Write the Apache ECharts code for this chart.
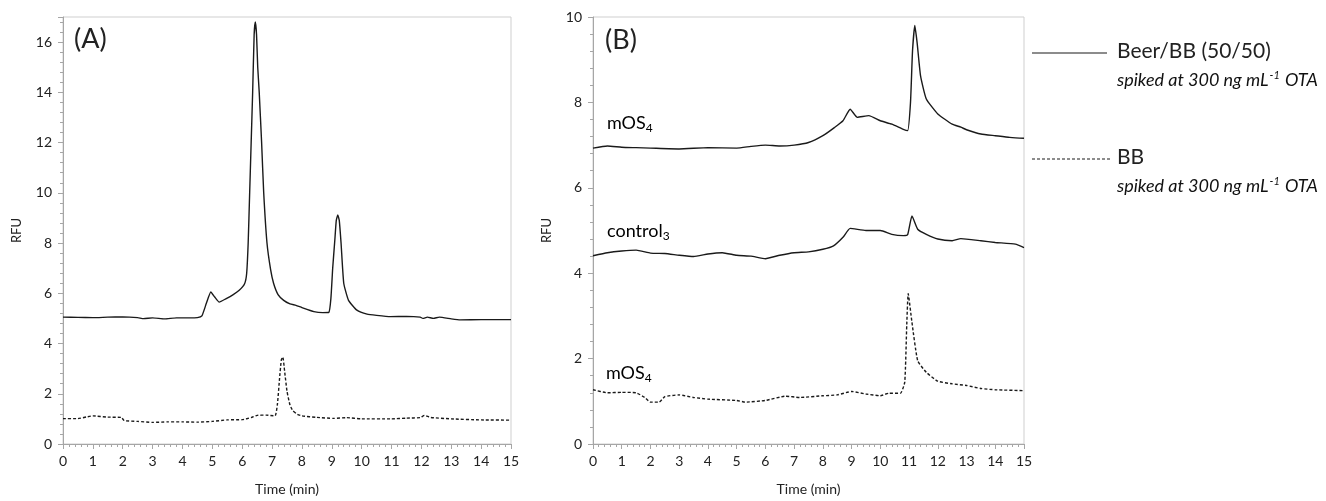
<!DOCTYPE html>
<html>
<head>
<meta charset="utf-8">
<title>Chromatograms (A) and (B)</title>
<script src="https://cdn.jsdelivr.net/npm/echarts@6/dist/echarts.min.js"></script>
<style>
  html, body { margin: 0; padding: 0; background: #fff; }
  #chart { width: 1326px; height: 501px; }
</style>
</head>
<body>
<div id="chart"></div>
<script>
// Panel A: Beer/BB (50/50) spiked, solid trace  [time (min), RFU]
const panelA_beerBB = [
    [0, 5.05], [0.5, 5.04], [1, 5.03], [1.5, 5.05], [2, 5.06], [2.5, 5.03], [2.7, 4.99],
    [3, 5.02], [3.4, 4.98], [3.8, 5.02], [4.2, 5.02], [4.5, 5.03], [4.65, 5.1],
    [4.8, 5.6], [4.95, 6.05], [5.08, 5.85], [5.23, 5.65], [5.45, 5.78], [5.7, 5.95],
    [5.9, 6.12], [6.08, 6.38], [6.15, 6.8], [6.2, 8.0], [6.25, 10.0], [6.3, 12.0],
    [6.35, 14.0], [6.4, 16.3], [6.44, 16.8], [6.48, 16.3], [6.52, 15.0], [6.57, 14.0],
    [6.65, 12.0], [6.72, 10.0], [6.83, 8.0], [6.95, 6.95], [7.05, 6.4], [7.2, 5.95],
    [7.39, 5.72], [7.6, 5.58], [7.8, 5.52], [8.0, 5.43], [8.4, 5.27], [8.7, 5.23],
    [8.9, 5.24], [8.97, 5.8], [9.03, 7.0], [9.1, 8.1], [9.15, 8.9], [9.2, 9.12],
    [9.25, 8.9], [9.31, 8.0], [9.4, 6.4], [9.56, 5.72], [9.84, 5.33], [10.18, 5.17],
    [10.5, 5.12], [10.96, 5.07], [11.5, 5.08], [11.96, 5.05], [12.05, 5.0], [12.2, 5.05],
    [12.4, 5.0], [12.6, 5.05], [13.0, 4.98], [13.3, 4.94], [14.0, 4.95], [15.0, 4.95]
];

// Panel A: BB spiked, dashed trace
const panelA_BB = [
    [0, 1.01], [0.5, 1.01], [0.8, 1.08], [1.0, 1.12], [1.5, 1.07], [1.95, 1.06],
    [2.05, 0.93], [2.5, 0.9], [3.0, 0.86], [3.5, 0.88], [4.0, 0.88], [4.5, 0.87],
    [5.0, 0.9], [5.5, 0.96], [6.0, 0.97], [6.3, 1.05], [6.5, 1.14], [6.8, 1.15],
    [7.1, 1.12], [7.18, 1.6], [7.25, 2.6], [7.31, 3.35], [7.36, 3.46], [7.42, 2.9],
    [7.5, 2.1], [7.6, 1.55], [7.7, 1.32], [7.85, 1.18], [8.0, 1.12], [8.5, 1.06],
    [9.06, 1.02], [9.5, 1.05], [10.0, 1.0], [11.0, 1.0], [11.5, 1.03], [11.96, 1.05],
    [12.1, 1.14], [12.3, 1.06], [13.0, 1.0], [14.0, 0.96], [15.0, 0.95]
];

// Panel B: mOS4, Beer/BB (50/50) spiked, solid trace
const panelB_mOS4_beer = [
    [0, 6.93], [0.5, 6.98], [1.0, 6.95], [1.5, 6.94], [2.0, 6.93], [3.0, 6.91],
    [4.0, 6.94], [5.0, 6.93], [5.5, 6.97], [6.0, 7.0], [6.5, 6.98], [7.0, 7.0],
    [7.5, 7.06], [8.0, 7.22], [8.4, 7.41], [8.7, 7.57], [8.95, 7.84], [9.2, 7.65],
    [9.6, 7.69], [10.0, 7.57], [10.4, 7.49], [10.8, 7.37], [10.95, 7.34], [11.05, 8.0],
    [11.12, 9.2], [11.2, 9.8], [11.28, 9.4], [11.4, 8.62], [11.6, 8.08], [12.0, 7.73],
    [12.5, 7.49], [12.8, 7.42], [13.0, 7.36], [13.5, 7.26], [14.0, 7.22], [14.5, 7.18],
    [15.0, 7.16]
];

// Panel B: control3, Beer/BB (50/50) spiked, solid trace
const panelB_control3_beer = [
    [0, 4.41], [0.5, 4.48], [1.0, 4.52], [1.5, 4.54], [2.0, 4.47], [2.5, 4.46],
    [3.0, 4.42], [3.5, 4.39], [4.0, 4.45], [4.5, 4.48], [5.0, 4.42], [5.5, 4.4],
    [6.0, 4.34], [6.5, 4.42], [7.0, 4.48], [7.5, 4.5], [8.0, 4.56], [8.37, 4.64],
    [8.7, 4.84], [8.95, 5.05], [9.5, 5.0], [10.0, 5.0], [10.4, 4.91], [10.8, 4.88],
    [10.95, 4.9], [11.1, 5.34], [11.3, 5.03], [11.6, 4.91], [12.0, 4.8], [12.5, 4.76],
    [12.8, 4.81], [13.5, 4.76], [14.0, 4.72], [14.7, 4.68], [15.0, 4.6]
];

// Panel B: mOS4, BB spiked, dashed trace
const panelB_mOS4_BB = [
    [0, 1.27], [0.5, 1.2], [1.0, 1.21], [1.5, 1.2], [1.8, 1.09], [2.0, 0.98],
    [2.3, 0.98], [2.5, 1.11], [3.0, 1.15], [3.5, 1.09], [4.0, 1.05], [5.0, 1.02],
    [5.3, 0.98], [6.0, 1.02], [6.7, 1.12], [7.2, 1.09], [8.0, 1.13], [8.5, 1.15],
    [9.0, 1.23], [9.5, 1.17], [10.0, 1.13], [10.3, 1.19], [10.7, 1.19], [10.85, 1.45],
    [10.92, 2.8], [10.97, 3.52], [11.1, 2.85], [11.3, 1.95], [11.6, 1.68], [12.0, 1.47],
    [12.5, 1.41], [13.0, 1.37], [13.5, 1.3], [14.0, 1.27], [15.0, 1.25]
];

const xTicksMax = 15;
const yMaxA = 17;
const yMaxB = 10;

const FONT = 'Lato, "Open Sans", sans-serif';
const TEXT = '#222';
const AXIS = '#a6a6a6';

const chart = echarts.init(document.getElementById('chart'));

function xAxisFor(gridIndex) {
    return {
        type: 'value',
        gridIndex: gridIndex,
        min: 0,
        max: xTicksMax,
        interval: 1,
        name: 'Time (min)',
        nameLocation: 'middle',
        nameGap: 38,
        nameTextStyle: { color: TEXT, fontFamily: FONT, fontSize: 14 },
        axisLine: { lineStyle: { color: AXIS } },
        axisTick: { length: 5, lineStyle: { color: AXIS } },
        minorTick: { show: true, splitNumber: 5, length: 3, lineStyle: { color: AXIS } },
        axisLabel: { color: TEXT, fontFamily: FONT, fontSize: 14, margin: 10 },
        splitLine: { show: false }
    };
}

function yAxisFor(gridIndex, max) {
    return {
        type: 'value',
        gridIndex: gridIndex,
        min: 0,
        max: max,
        interval: 2,
        name: 'RFU',
        nameLocation: 'middle',
        nameGap: 40,
        nameTextStyle: { color: TEXT, fontFamily: FONT, fontSize: 13 },
        axisLine: { show: true, lineStyle: { color: AXIS } },
        axisTick: { show: true, length: 5, lineStyle: { color: AXIS } },
        minorTick: { show: true, splitNumber: 5, length: 3, lineStyle: { color: AXIS } },
        axisLabel: { color: TEXT, fontFamily: FONT, fontSize: 14, margin: 11, showMaxLabel: max % 2 === 0 },
        splitLine: { show: false }
    };
}

function trace(name, data, gridIndex, dashed) {
    return {
        name: name,
        type: 'line',
        xAxisIndex: gridIndex,
        yAxisIndex: gridIndex,
        data: data,
        showSymbol: false,
        smooth: 0.15,
        lineStyle: { color: '#1a1a1a', width: 1.4, type: dashed ? [3, 2] : 'solid' },
        silent: true
    };
}

const subRich = {
    big: { fontFamily: FONT, fontSize: 18, color: TEXT },
    sub: { fontFamily: FONT, fontSize: 12, color: TEXT, padding: [10, 0, 0, 0] }
};

const noteRich = {
    i: { fontFamily: FONT, fontSize: 18, fontStyle: 'italic', fill: '#111' },
    s: { fontFamily: FONT, fontSize: 11, fontStyle: 'italic', fill: '#111', padding: [0, 1, 9, 1] }
};

const option = {
    backgroundColor: '#ffffff',
    animation: false,
    grid: [
        { left: 63, top: 17, width: 448, height: 428, show: true, borderColor: '#cfcfcf', borderWidth: 1 },
        { left: 593, top: 17, width: 431, height: 428, show: true, borderColor: '#cfcfcf', borderWidth: 1 }
    ],
    xAxis: [xAxisFor(0), xAxisFor(1)],
    yAxis: [yAxisFor(0, yMaxA), yAxisFor(1, yMaxB)],
    series: [
        trace('Beer/BB (50/50)', panelA_beerBB, 0, false),
        trace('BB', panelA_BB, 0, true),
        trace('mOS4 Beer/BB', panelB_mOS4_beer, 1, false),
        trace('control3 Beer/BB', panelB_control3_beer, 1, false),
        trace('mOS4 BB', panelB_mOS4_BB, 1, true)
    ],
    graphic: [
        { type: 'text', left: 74, top: 26, style: { text: '(A)', fontFamily: FONT, fontSize: 27, fill: TEXT } },
        { type: 'text', left: 605, top: 27, style: { text: '(B)', fontFamily: FONT, fontSize: 27, fill: TEXT } },
        { type: 'text', left: 607, top: 114, style: { text: '{big|mOS}{sub|4}', rich: subRich } },
        { type: 'text', left: 607, top: 222, style: { text: '{big|control}{sub|3}', rich: subRich } },
        { type: 'text', left: 606, top: 364, style: { text: '{big|mOS}{sub|4}', rich: subRich } },

        { type: 'line', shape: { x1: 1032, y1: 53, x2: 1107, y2: 53 }, style: { stroke: '#1a1a1a', lineWidth: 1.2 } },
        { type: 'text', left: 1117, top: 41, style: { text: 'Beer/BB (50/50)', fontFamily: FONT, fontSize: 21, fill: TEXT } },
        { type: 'text', left: 1117, top: 70, style: { text: '{i|spiked at 300 ng mL}{s|-1}{i| OTA}', rich: noteRich } },
        { type: 'line', shape: { x1: 1032, y1: 159, x2: 1110, y2: 159 }, style: { stroke: '#1a1a1a', lineWidth: 1.2, lineDash: [3, 2] } },
        { type: 'text', left: 1117, top: 147, style: { text: 'BB', fontFamily: FONT, fontSize: 21, fill: TEXT } },
        { type: 'text', left: 1117, top: 176, style: { text: '{i|spiked at 300 ng mL}{s|-1}{i| OTA}', rich: noteRich } }
    ]
};

chart.setOption(option);
window.addEventListener('resize', () => chart.resize());
</script>
</body>
</html>
